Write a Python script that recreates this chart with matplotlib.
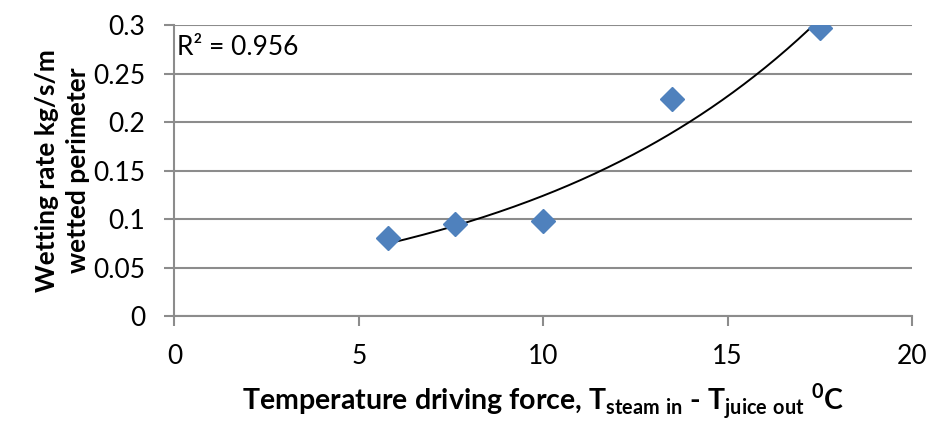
import numpy as np
import matplotlib
matplotlib.use('Agg')
import matplotlib.pyplot as plt

# data
temp_diff = [5.8, 7.6, 10.0, 13.5, 17.5]
wetting_rate = [0.0806, 0.0949, 0.098, 0.224, 0.297]
r2_text = 'R² = 0.956'

plt.rcParams['font.family'] = ['Lato', 'DejaVu Sans']
plt.rcParams['mathtext.fontset'] = 'custom'
plt.rcParams['mathtext.rm'] = 'Lato'
plt.rcParams['mathtext.bf'] = 'Lato:bold'

fig = plt.figure(figsize=(9.28, 4.21), dpi=100)
ax = fig.add_axes([0.1880, 0.2494, 0.7947, 0.6912])

grid_c = '#8c8c8c'

# exponential trendline (Excel-style: linear fit on ln y)
b, a = np.polyfit(temp_diff, np.log(wetting_rate), 1)
xs = np.linspace(min(temp_diff), max(temp_diff), 200)
ax.plot(xs, np.exp(a) * np.exp(b * xs), color='black', lw=1.4, zorder=3)

ax.plot(temp_diff, wetting_rate, linestyle='none', marker='D', ms=12,
        color='#4F81BD', markeredgecolor='#4F81BD', zorder=4)

ax.set_xlim(0, 20)
ax.set_ylim(0, 0.3)
ax.set_xticks([0, 5, 10, 15, 20])
ax.set_yticks([0, 0.05, 0.1, 0.15, 0.2, 0.25, 0.3])
ax.set_yticklabels(['0', '0.05', '0.1', '0.15', '0.2', '0.25', '0.3'])

ax.grid(axis='y', color=grid_c, lw=1.5)
ax.set_axisbelow(True)
for s in ['top', 'right']:
    ax.spines[s].set_visible(False)
for s in ['left', 'bottom']:
    ax.spines[s].set_color(grid_c)
    ax.spines[s].set_linewidth(1.5)

ax.tick_params(axis='both', colors=grid_c, length=7, width=1.5,
               labelsize=19, labelcolor='black')
ax.tick_params(axis='x', pad=13)
ax.tick_params(axis='y', pad=14)

ax.text(0.004, 0.965, r2_text, transform=ax.transAxes, fontsize=19,
        va='top', ha='left')

ax.set_xlabel(r'Temperature driving force, T$_{\mathbf{steam\ in}}$ - '
              r'T$_{\mathbf{juice\ out}}$ $^{\mathbf{0}}$C',
              fontsize=20.5, fontweight='bold', labelpad=9)
ax.set_ylabel('Wetting rate kg/s/m\nwetted perimeter', fontsize=19,
              fontweight='bold', linespacing=1.35, labelpad=2)

fig.savefig('out.png', dpi=100)
